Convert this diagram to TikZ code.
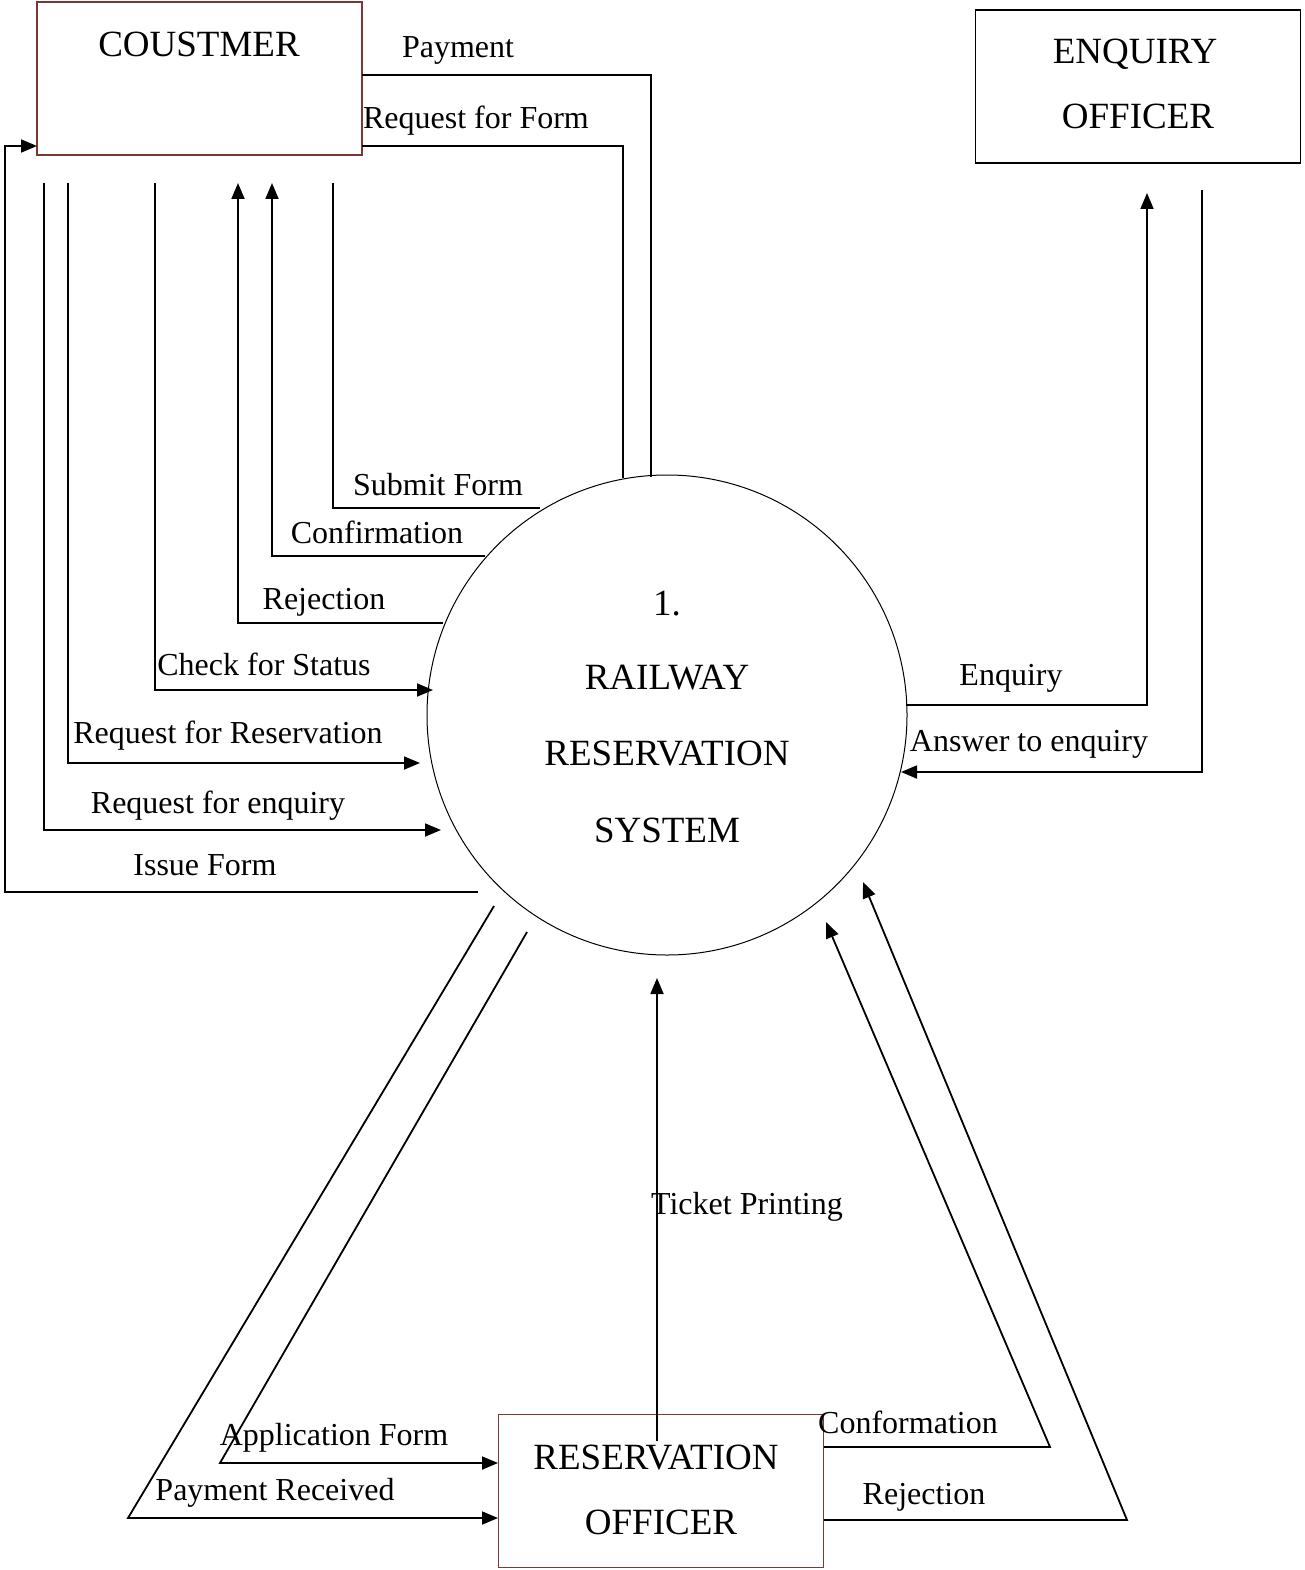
\documentclass[tikz,border=0pt]{standalone}
\usepackage{fontspec}
\setmainfont{Liberation Serif}
\usetikzlibrary{arrows.meta}
\definecolor{boxred}{RGB}{125,55,55}
\tikzset{
  flow/.style={line width=1.8pt, -{Triangle[length=16pt,width=13pt]}},
  plain/.style={line width=1.8pt},
  lbl/.style={anchor=base, inner sep=0pt, font=\fontsize{32}{37}\selectfont},
  big/.style={anchor=base, inner sep=0pt, font=\fontsize{37}{42}\selectfont},
  entity/.style={draw, line width=1.2pt, minimum width=325pt, minimum height=153pt, inner sep=0pt}
}
\begin{document}
\begin{tikzpicture}[x=1pt,y=-1pt]
\useasboundingbox[fill=white] (0,0) rectangle (1304,1570);
% entities
\node[entity, draw=boxred] (cust) at (199.5,78.5) {};
\node[entity] (enq) at (1138,86.5) {};
\node[entity, draw=boxred] (ro) at (661,1491) {};
\node[draw, circle, line width=1pt, minimum size=480pt, inner sep=0pt] (sys) at (667,715) {};
% entity texts
\node[big] (tcust) at (199,57) {COUSTMER};
\node[big] (tenq1) at (1135,64) {ENQUIRY};
\node[big] (tenq2) at (1138,129) {OFFICER};
\node[big] (tsys0) at (667,615) {1.};
\node[big] (tsys1) at (667,689) {RAILWAY};
\node[big] (tsys2) at (667,765) {RESERVATION};
\node[big] (tsys3) at (667,842) {SYSTEM};
\node[big] (tro1) at (656,1469) {RESERVATION};
\node[big] (tro2) at (661,1534) {OFFICER};
% coordinates
\coordinate (payA) at (362,75);  \coordinate (payB) at (651,75);  \coordinate (payC) at (651,477);
\coordinate (rffA) at (362,146); \coordinate (rffB) at (623,146); \coordinate (rffC) at (623,478);
\coordinate (subA) at (333,183); \coordinate (subB) at (333,508); \coordinate (subC) at (540,508);
\coordinate (conA) at (485,556); \coordinate (conB) at (272,556); \coordinate (conC) at (272,183);
\coordinate (rejA) at (443,623); \coordinate (rejB) at (238,623); \coordinate (rejC) at (238,183);
\coordinate (chkA) at (155,183); \coordinate (chkB) at (155,690); \coordinate (chkC) at (433,690);
\coordinate (rfrA) at (68,183);  \coordinate (rfrB) at (68,763);  \coordinate (rfrC) at (420,763);
\coordinate (rfeA) at (44,183);  \coordinate (rfeB) at (44,830);  \coordinate (rfeC) at (441,830);
\coordinate (issA) at (478,892); \coordinate (issB) at (5,892);   \coordinate (issC) at (5,146); \coordinate (issD) at (37,146);
\coordinate (eqA) at (906,705);  \coordinate (eqB) at (1147,705); \coordinate (eqC) at (1147,193);
\coordinate (ansA) at (1202,190); \coordinate (ansB) at (1202,772); \coordinate (ansC) at (901,772);
\coordinate (tpA) at (657,1441); \coordinate (tpB) at (657,978);
\coordinate (apA) at (527,932);  \coordinate (apB) at (220,1463); \coordinate (apC) at (498,1463);
\coordinate (prA) at (494,906);  \coordinate (prB) at (128,1518); \coordinate (prC) at (498,1518);
\coordinate (cfA) at (824,1447); \coordinate (cfB) at (1050,1447); \coordinate (cfC) at (826,922);
\coordinate (rjA) at (824,1520); \coordinate (rjB) at (1127,1520); \coordinate (rjC) at (863,882);
% connectors
\draw[plain] (payA) -- (payB) -- (payC);
\draw[plain] (rffA) -- (rffB) -- (rffC);
\draw[plain] (subA) -- (subB) -- (subC);
\draw[flow] (conA) -- (conB) -- (conC);
\draw[flow] (rejA) -- (rejB) -- (rejC);
\draw[flow] (chkA) -- (chkB) -- (chkC);
\draw[flow] (rfrA) -- (rfrB) -- (rfrC);
\draw[flow] (rfeA) -- (rfeB) -- (rfeC);
\draw[flow] (issA) -- (issB) -- (issC) -- (issD);
\draw[flow] (eqA) -- (eqB) -- (eqC);
\draw[flow] (ansA) -- (ansB) -- (ansC);
\draw[flow] (tpA) -- (tpB);
\draw[flow] (apA) -- (apB) -- (apC);
\draw[flow] (prA) -- (prB) -- (prC);
\draw[flow] (cfA) -- (cfB) -- (cfC);
\draw[flow] (rjA) -- (rjB) -- (rjC);
% labels
\node[lbl] (lpay) at (458,58) {Payment};
\node[lbl] (lrff) at (476,129) {Request for Form};
\node[lbl] (lsub) at (438,495) {Submit Form};
\node[lbl] (lcon) at (377,543) {Confirmation};
\node[lbl] (lrej) at (324,609) {Rejection};
\node[lbl] (lchk) at (264,675) {Check for Status};
\node[lbl] (lrfr) at (228,743) {Request for Reservation};
\node[lbl] (lrfe) at (218,813) {Request for enquiry};
\node[lbl] (liss) at (205,875) {Issue Form};
\node[lbl] (leq) at (1011,685) {Enquiry};
\node[lbl] (lans) at (1029,751) {Answer to enquiry};
\node[lbl] (ltp) at (747,1214) {Ticket Printing};
\node[lbl] (lap) at (334,1445) {Application Form};
\node[lbl] (lpr) at (275,1500) {Payment Received};
\node[lbl] (lcf) at (908,1433) {Conformation};
\node[lbl] (lrj) at (924,1504) {Rejection};
\end{tikzpicture}
\end{document}
